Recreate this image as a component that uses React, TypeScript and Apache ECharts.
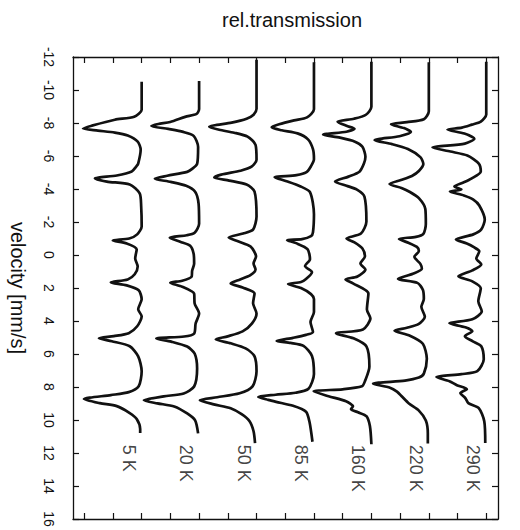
import React, { useEffect, useRef } from 'react';
import * as echarts from 'echarts';

// Mössbauer spectra: [velocity mm/s, relative transmission %]
const temperatures = ['5 K', '20 K', '50 K', '85 K', '160 K', '220 K', '290 K'];

const spec5K: number[][] = [
  [-10.5, 100], [-8.81, 100], [-8.38, 98.5], [-8.2, 94.6], [-7.84, 90.0], [-7.66, 88.2], [-7.54, 91.2],
  [-7.42, 94.6], [-7.24, 97.2], [-6.87, 99.2], [-6.39, 99.8], [-5.54, 99.3], [-5.36, 98.9], [-5.06, 98.0],
  [-4.82, 95.0], [-4.64, 90.6], [-4.45, 93.0], [-4.27, 97.6], [-3.73, 99.6], [-2.94, 99.9], [-1.73, 100],
  [-1.25, 99.1], [-1.0, 97.5], [-0.88, 94.2], [-0.7, 97.0], [-0.34, 99.0], [0.21, 98.7], [0.69, 99.2],
  [1.17, 98.6], [1.48, 97.2], [1.66, 93.8], [1.84, 97.0], [2.14, 99.4], [2.68, 100], [3.29, 99.3],
  [3.72, 100], [4.32, 99.1], [4.74, 97.4], [4.92, 94.4], [5.05, 91.4], [5.23, 94.0], [5.53, 97.6],
  [6.14, 99.3], [7.04, 100], [7.95, 99.4], [8.31, 97.4], [8.49, 93.8], [8.73, 88.4], [8.98, 91.6],
  [9.16, 95.0], [9.58, 97.6], [9.94, 99.0], [10.55, 99.7], [10.79, 99.7],
];

const spec20K: number[][] = [
  [-10.54, 100], [-8.85, 100], [-8.55, 99.5], [-8.37, 97.2], [-8.06, 94.2], [-7.94, 91.8], [-7.82, 90.4],
  [-7.64, 93.8], [-7.46, 96.8], [-7.22, 98.9], [-6.55, 99.8], [-5.52, 99.6], [-5.22, 98.6], [-5.04, 97.6],
  [-4.8, 93.6], [-4.62, 91.1], [-4.43, 94.3], [-4.19, 97.4], [-3.83, 99.2], [-3.1, 99.9], [-1.89, 100],
  [-1.35, 99.1], [-1.2, 97.5], [-1.05, 94.1], [-0.8, 96.2], [-0.56, 98.2], [-0.08, 98.9], [0.53, 99.0],
  [0.95, 98.6], [1.31, 98.5], [1.56, 96.6], [1.68, 94.2], [1.92, 96.6], [2.34, 99.0], [2.94, 99.1],
  [3.55, 100], [4.15, 99.3], [4.76, 99.0], [4.94, 97.0], [5.06, 91.4], [5.25, 94.4], [5.55, 97.6],
  [5.97, 99.1], [6.88, 99.6], [7.97, 99.0], [8.39, 96.9], [8.57, 92.9], [8.81, 88.9], [8.99, 91.6],
  [9.18, 95.0], [9.6, 97.6], [10.02, 99.2], [10.81, 99.8],
];

const spec50K: number[][] = [
  [-11.83, 100], [-8.86, 100], [-8.5, 99.4], [-8.26, 98.0], [-8.02, 95.0], [-7.77, 90.5], [-7.59, 92.5],
  [-7.41, 95.5], [-7.17, 98.2], [-6.68, 99.8], [-5.78, 100], [-5.35, 99.0], [-5.11, 96.8], [-4.87, 92.9],
  [-4.69, 91.5], [-4.51, 94.5], [-4.27, 98.0], [-3.84, 99.6], [-2.33, 100], [-1.54, 99.3], [-1.3, 97.3],
  [-1.06, 94.4], [-0.82, 96.4], [-0.51, 98.8], [0.09, 99.9], [0.51, 99.4], [0.88, 99.8], [1.24, 98.7],
  [1.48, 96.7], [1.72, 94.8], [1.97, 97.2], [2.33, 99.6], [2.93, 99.3], [3.54, 100], [4.14, 99.1],
  [4.63, 97.2], [4.93, 94.2], [5.11, 91.8], [5.35, 94.8], [5.66, 97.8], [6.14, 99.6], [7.05, 100],
  [7.96, 99.2], [8.38, 96.6], [8.62, 92.1], [8.8, 88.6], [9.05, 91.4], [9.29, 94.8], [9.65, 97.0],
  [10.07, 98.6], [10.68, 99.4], [11.4, 99.7],
];

const spec85K: number[][] = [
  [-11.68, 100], [-8.83, 100], [-8.34, 98.6], [-8.16, 96.0], [-7.92, 93.0], [-7.74, 91.5], [-7.56, 93.5],
  [-7.37, 96.7], [-7.01, 98.8], [-6.41, 99.8], [-5.8, 100], [-5.38, 99.4], [-5.02, 98.5], [-4.84, 96.5],
  [-4.71, 92.1], [-4.47, 94.5], [-4.17, 97.2], [-3.81, 99.2], [-2.47, 100], [-1.38, 99.8], [-1.14, 99.4],
  [-0.96, 97.6], [-0.9, 94.6], [-0.72, 96.4], [-0.36, 98.7], [0.25, 99.2], [0.67, 98.2], [1.04, 99.6],
  [1.46, 98.4], [1.64, 97.4], [1.76, 94.8], [2.0, 97.4], [2.37, 99.4], [2.67, 100], [3.45, 100],
  [4.06, 99.3], [4.66, 99.8], [4.84, 98.4], [5.02, 95.8], [5.21, 92.5], [5.33, 95.3], [5.51, 97.9],
  [6.12, 99.6], [7.21, 100], [8.11, 98.9], [8.35, 96.3], [8.47, 92.3], [8.6, 88.8], [8.78, 90.8],
  [8.9, 92.4], [9.14, 95.8], [9.5, 98.4], [10.11, 99.1], [11.32, 99.7],
];

const spec160K: number[][] = [
  [-11.71, 100], [-8.98, 100], [-8.5, 98.9], [-8.26, 96.5], [-8.08, 93.2], [-7.83, 95.0], [-7.65, 96.6],
  [-7.47, 95.0], [-7.29, 90.3], [-7.11, 93.7], [-6.87, 96.7], [-6.56, 98.2], [-5.96, 98.8], [-5.54, 98.5],
  [-5.05, 97.6], [-4.75, 95.4], [-4.45, 92.7], [-4.2, 95.0], [-3.96, 97.1], [-3.54, 98.6], [-2.03, 99.0],
  [-1.3, 97.9], [-1.0, 95.0], [-0.76, 96.6], [-0.39, 98.2], [0.09, 98.7], [0.51, 97.8], [0.88, 98.8],
  [1.3, 97.2], [1.48, 94.8], [1.72, 96.3], [2.33, 99.4], [3.3, 99.1], [3.84, 99.8], [4.51, 98.3],
  [4.75, 92.9], [5.05, 96.4], [5.54, 99.0], [6.75, 99.6], [7.65, 98.7], [7.96, 98.1], [8.14, 94.2],
  [8.26, 88.4], [8.56, 91.4], [8.86, 94.9], [9.17, 96.3], [9.35, 95.9], [9.53, 97.3], [9.77, 99.0],
  [10.37, 99.7], [11.47, 100],
];

const spec220K: number[][] = [
  [-11.68, 100], [-8.71, 100], [-8.23, 99.0], [-8.05, 95.6], [-7.93, 92.4], [-7.69, 95.0], [-7.45, 96.4],
  [-7.2, 94.1], [-6.96, 89.1], [-6.72, 92.6], [-6.42, 95.8], [-5.93, 98.3], [-5.51, 98.9], [-5.09, 98.0],
  [-4.79, 96.6], [-4.54, 94.4], [-4.3, 92.1], [-4.06, 94.5], [-3.82, 96.2], [-3.45, 98.0], [-2.79, 99.3],
  [-1.88, 99.4], [-1.28, 98.9], [-1.1, 97.4], [-0.97, 94.0], [-0.73, 96.0], [-0.49, 97.6], [-0.25, 98.0],
  [0.11, 97.1], [0.54, 98.3], [0.84, 98.6], [1.14, 96.8], [1.45, 93.8], [1.69, 97.7], [2.11, 98.8],
  [2.66, 99.0], [3.14, 98.5], [3.74, 99.2], [4.17, 98.0], [4.41, 95.6], [4.59, 93.1], [4.89, 96.2],
  [5.38, 98.8], [6.29, 99.6], [7.19, 99.0], [7.43, 98.0], [7.61, 95.2], [7.8, 88.8], [8.04, 92.2],
  [8.28, 93.6], [8.58, 94.6], [9.0, 96.0], [9.43, 98.0], [10.03, 99.4], [10.82, 99.8], [11.43, 99.8],
];

const spec290K: number[][] = [
  [-11.71, 100], [-8.51, 100], [-8.08, 98.9], [-7.9, 97.1], [-7.72, 95.1], [-7.6, 92.2], [-7.36, 95.6],
  [-7.05, 97.6], [-6.75, 95.7], [-6.51, 89.2], [-6.27, 92.8], [-6.03, 96.2], [-5.54, 98.5], [-5.06, 98.9],
  [-4.63, 97.0], [-4.39, 95.4], [-4.15, 93.6], [-3.97, 95.0], [-3.85, 92.7], [-3.61, 95.5], [-3.36, 97.4],
  [-3.0, 98.6], [-2.15, 99.7], [-1.55, 99.0], [-1.25, 97.4], [-0.94, 93.9], [-0.7, 96.1], [-0.46, 97.6],
  [-0.22, 98.6], [0.21, 98.0], [0.57, 99.0], [0.93, 97.2], [1.29, 94.4], [1.6, 97.2], [2.02, 98.9],
  [2.81, 98.4], [3.41, 99.1], [3.9, 97.2], [4.14, 92.6], [4.38, 95.8], [4.62, 97.2], [4.92, 95.7],
  [5.23, 97.3], [5.53, 99.0], [6.32, 99.5], [7.04, 98.2], [7.22, 95.0], [7.4, 90.0], [7.65, 92.6],
  [7.89, 94.1], [8.13, 96.1], [8.37, 94.8], [8.67, 95.8], [8.98, 96.4], [9.28, 98.5], [10.07, 99.6],
  [11.4, 99.8],
];

const spectra = [spec5K, spec20K, spec50K, spec85K, spec160K, spec220K, spec290K];
const OFFSET = 11.54; // horizontal stacking offset between spectra (transmission %)
const BASE = 100;
const velocityMin = -12;
const velocityMax = 16;
const velocityStep = 2;

const FONT = 'Liberation Sans, Arial, Helvetica, sans-serif';

export default function App() {
  const ref = useRef<HTMLDivElement>(null);
  useEffect(() => {
    if (!ref.current) return;
    const chart = echarts.init(ref.current, undefined, { renderer: 'svg' });
    const xMin = 86.2;
    const xMax = 171.6;
    const stackTicks: number[] = [];
    for (let k = -2; k <= 12; k++) stackTicks.push(+(BASE + (k * OFFSET) / 2).toFixed(3));

    const lineSeries = spectra.map((s, i) => ({
      type: 'line',
      name: temperatures[i],
      data: s.map(([v, t]) => [t + i * OFFSET, v]),
      xAxisIndex: 0,
      yAxisIndex: 0,
      showSymbol: false,
      smooth: 0.25,
      lineStyle: { color: '#111', width: 2.7 },
      silent: true,
    }));

    const labelSeries = {
      type: 'scatter',
      xAxisIndex: 0,
      yAxisIndex: 0,
      symbolSize: 0,
      silent: true,
      data: temperatures.map((t, i) => ({ value: [BASE - 2.6 + i * OFFSET, 11.5], name: t })),
      label: {
        show: true,
        position: 'inside',
        formatter: (p: any) => p.name,
        rotate: -90,
        align: 'left',
        verticalAlign: 'middle',
        fontSize: 18,
        fontFamily: FONT,
        color: '#111',
      },
    };

    const axisLine = { show: true, onZero: false, lineStyle: { color: '#111', width: 1.3 } };
    const tick = { show: true, inside: true, length: 6, lineStyle: { color: '#111', width: 1.2 } };

    chart.setOption({
      animation: false,
      backgroundColor: '#fff',
      grid: { left: 71, right: 22, top: 57, bottom: 11 },
      graphic: [
        {
          type: 'text',
          x: 292,
          y: 20,
          style: {
            text: 'rel.transmission',
            fontSize: 20,
            fontFamily: FONT,
            fill: '#111',
            textAlign: 'center',
            textVerticalAlign: 'middle',
          },
        },
      ],
      xAxis: [
        {
          type: 'value', position: 'bottom', min: xMin, max: xMax,
          axisLine, axisTick: { ...tick, customValues: stackTicks },
          axisLabel: { show: false, customValues: stackTicks }, splitLine: { show: false },
        },
        {
          type: 'value', position: 'top', min: xMin, max: xMax,
          axisLine, axisTick: { ...tick, customValues: stackTicks },
          axisLabel: { show: false, customValues: stackTicks }, splitLine: { show: false },
        },
      ],
      yAxis: [
        {
          type: 'value', position: 'left', inverse: true,
          min: velocityMin, max: velocityMax, interval: velocityStep,
          name: 'velocity [mm/s]', nameLocation: 'middle', nameRotate: -90, nameGap: 45,
          nameTextStyle: { fontSize: 20, fontFamily: FONT, color: '#111' },
          axisLine, axisTick: tick,
          axisLabel: { rotate: -90, margin: 17, fontSize: 14, fontFamily: FONT, color: '#111' },
          splitLine: { show: false },
        },
        {
          type: 'value', position: 'right', inverse: true,
          min: velocityMin, max: velocityMax, interval: velocityStep,
          axisLine, axisTick: tick, axisLabel: { show: false }, splitLine: { show: false },
        },
      ],
      series: [...lineSeries, labelSeries],
    });
    return () => chart.dispose();
  }, []);
  return (
    <div
      ref={ref}
      style={{ position: 'fixed', left: 0, top: 0, width: 520, height: 530, background: '#fff' }}
    />
  );
}
